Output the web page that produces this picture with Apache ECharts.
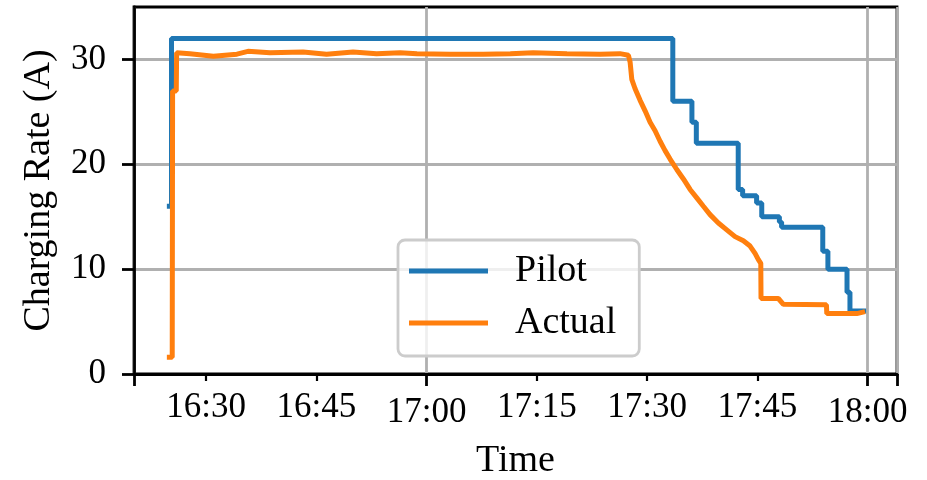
<!DOCTYPE html>
<html>
<head>
<meta charset="utf-8">
<script src="https://cdn.jsdelivr.net/npm/echarts@6/dist/echarts.min.js"></script>
<style>
html,body{margin:0;padding:0;background:#fff;}
#chart{width:927px;height:480px;}
</style>
</head>
<body>
<div id="chart"></div>
<script>
// Time in minutes since midnight
var pilotTime  = [984.67, 985.3, 1053.5, 1056.1, 1056.7, 1062.4, 1063.0, 1064.9, 1065.6, 1068.0, 1068.3, 1073.9, 1074.6, 1077.2, 1077.6, 1079.8];
var pilotValue = [16, 32, 26, 24, 22, 17.6, 17, 16.3, 15, 14.5, 14, 11.7, 10, 7.8, 6, 6];

var actualTime  = [984.67, 985.4, 985.45, 985.95, 986.0, 987.8, 991.0, 994.2, 995.7, 998.7, 1003.2, 1006.4, 1010.0, 1013.2, 1016.4, 1018.7, 1023.2, 1027.7, 1031.4, 1034.5, 1039.1, 1043.6, 1046.3, 1047.46, 1047.69, 1047.92, 1048.37, 1049.05, 1049.73, 1050.41, 1051.09, 1051.77, 1052.45, 1053.13, 1054.04, 1054.94, 1055.85, 1056.76, 1057.66, 1058.57, 1059.70, 1060.84, 1061.97, 1063.10, 1064.01, 1064.69, 1065.14, 1065.47, 1065.5, 1067.86, 1068.54, 1074.4, 1074.45, 1078.53, 1079.66];
var actualValue = [1.6, 1.6, 27.0, 27.0, 30.64, 30.55, 30.3, 30.5, 30.77, 30.64, 30.7, 30.5, 30.7, 30.55, 30.64, 30.55, 30.5, 30.5, 30.55, 30.64, 30.55, 30.5, 30.55, 30.4, 29.75, 28.1, 27.2, 26.1, 25.1, 24.0, 23.2, 22.2, 21.3, 20.5, 19.5, 18.6, 17.6, 16.8, 16.0, 15.2, 14.4, 13.75, 13.1, 12.7, 12.2, 11.5, 10.9, 10.55, 7.2, 7.2, 6.65, 6.6, 5.76, 5.76, 5.95];

var xMin = 980.2, xMax = 1084.0;
var xLabelValues = [990, 1005, 1020, 1035, 1050, 1065, 1080];
var xMajorValues = [1020, 1080];
var xMinorValues = [990, 1005, 1035, 1050, 1065];
var yTickValues = [0, 10, 20, 30];

var FONT = 'Liberation Serif';
var FS = 35;
var FS_TXT = 38;

function fmtTime(v) {
  var h = Math.floor(v / 60), m = Math.round(v - h * 60);
  return h + ':' + (m < 10 ? '0' : '') + m;
}
function zip(a, b) { return a.map(function (t, i) { return [t, b[i]]; }); }

var chart = echarts.init(document.getElementById('chart'), null, {renderer: 'canvas'});
chart.setOption({
  animation: false,
  backgroundColor: '#fff',
  textStyle: {fontFamily: FONT},
  grid: {left: 134, right: 30, top: 7, bottom: 106, outerBoundsMode: 'none', containLabel: false, show: true, borderColor: '#000', borderWidth: 2.8, backgroundColor: 'transparent'},
  legend: {
    left: 398, top: 240, orient: 'vertical',
    data: ['Pilot', 'Actual'],
    icon: 'rect', itemWidth: 79, itemHeight: 5, itemGap: 14,
    padding: [12, 23, 14, 11],
    backgroundColor: 'rgba(255,255,255,0.8)',
    borderColor: '#cccccc', borderWidth: 2.8, borderRadius: 7,
    textStyle: {fontFamily: FONT, fontSize: FS_TXT, color: '#000', padding: [0, 0, 0, 22]}
  },
  xAxis: [{
    type: 'value', min: xMin, max: xMax, position: 'bottom',
    name: 'Time', nameLocation: 'middle', nameGap: 68,
    nameTextStyle: {fontFamily: FONT, fontSize: FS_TXT, color: '#000'},
    axisLine: {show: true, lineStyle: {color: '#000', width: 2.8}},
    axisTick: {show: true, length: 12, lineStyle: {color: '#000', width: 2.8}, customValues: [xMin].concat(xMajorValues, [xMax])},
    axisLabel: {
      show: true, margin: 16, color: '#000', fontFamily: FONT, fontSize: FS,
      customValues: xLabelValues,
      formatter: function (v) {
        var s = fmtTime(v);
        return xMajorValues.indexOf(Math.round(v)) >= 0 ? '{maj|' + s + '}' : '{mn|' + s + '}';
      },
      rich: {
        maj: {fontFamily: FONT, fontSize: FS, color: '#000', padding: [5, 0, 0, 0]},
        mn: {fontFamily: FONT, fontSize: FS, color: '#000'}
      }
    },
    splitLine: {show: true, lineStyle: {color: '#b0b0b0', width: 2.8}}
  }, {
    type: 'value', min: xMin, max: xMax, position: 'bottom', gridIndex: 0,
    axisLine: {show: false},
    axisTick: {show: true, length: 7, lineStyle: {color: '#000', width: 2.2}, customValues: xMinorValues},
    axisLabel: {show: false},
    splitLine: {show: false}
  }],
  yAxis: {
    type: 'value', min: 0, max: 35,
    name: 'Charging Rate (A)', nameLocation: 'middle', nameGap: 76,
    nameTextStyle: {fontFamily: FONT, fontSize: FS_TXT, color: '#000'},
    axisLine: {show: true, lineStyle: {color: '#000', width: 2.8}},
    axisTick: {show: true, length: 12, lineStyle: {color: '#000', width: 2.8}, customValues: yTickValues},
    axisLabel: {show: true, margin: 28, color: '#000', fontFamily: FONT, fontSize: FS, customValues: yTickValues},
    splitLine: {show: true, lineStyle: {color: '#b0b0b0', width: 2.8}}
  },
  series: [{
    name: 'Pilot', type: 'line', step: 'end', showSymbol: false, symbol: 'none',
    xAxisIndex: 0,
    data: zip(pilotTime, pilotValue),
    lineStyle: {color: '#1f77b4', width: 5},
    itemStyle: {color: '#1f77b4'}
  }, {
    name: 'Actual', type: 'line', showSymbol: false, symbol: 'none',
    xAxisIndex: 0,
    data: zip(actualTime, actualValue),
    lineStyle: {color: '#ff7f0e', width: 5},
    itemStyle: {color: '#ff7f0e'}
  }]
});
</script>
</body>
</html>
